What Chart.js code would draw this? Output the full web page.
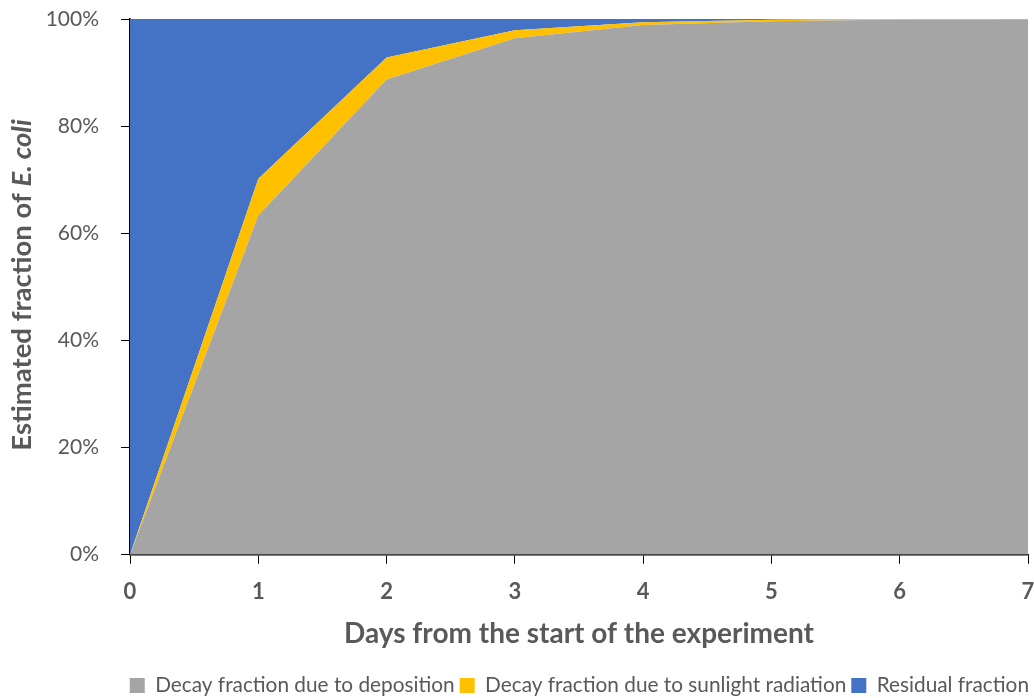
<!DOCTYPE html>
<html>
<head>
<meta charset="utf-8">
<script src="https://cdn.jsdelivr.net/npm/chart.js@4/dist/chart.umd.min.js"></script>
<style>
  html, body { margin: 0; padding: 0; background: #fff; overflow: hidden; }
  #wrap { width: 1034px; height: 706px; position: relative; }
</style>
</head>
<body>
<div id="wrap"><canvas id="areaChart"></canvas></div>
<script>
// Days and stacked fractions (%)
const days = ['0', '1', '2', '3', '4', '5', '6', '7'];
const depositionFraction = [0, 63.3, 88.7, 96.4, 98.9, 99.6, 99.9, 99.95];
const sunlightFraction = [0, 6.9, 4.1, 1.5, 0.5, 0.25, 0.08, 0.05];
const residualFraction = [100, 29.8, 7.2, 2.1, 0.6, 0.15, 0.02, 0];
const seriesNames = ['Decay fraction due to deposition', 'Decay fraction due to sunlight radiation', 'Residual fraction'];
const seriesColors = ['#A5A5A5', '#FFC000', '#4472C4'];

const FONT = 'Lato, "Open Sans", sans-serif';
const TEXT = '#595959';

// y axis title with italic species name
const yTitlePlugin = {
    id: 'yTitle',
    afterDraw(chart) {
        const ctx = chart.ctx;
        const parts = [
            { t: 'Estimated fraction of ', f: 'bold 27.5px ' + FONT },
            { t: 'E. coli', f: 'italic bold 27.5px ' + FONT }
        ];
        ctx.save();
        let total = 0;
        parts.forEach(p => { ctx.font = p.f; p.w = ctx.measureText(p.t).width; total += p.w; });
        ctx.translate(22, 285);
        ctx.rotate(-Math.PI / 2);
        ctx.fillStyle = TEXT;
        ctx.textBaseline = 'middle';
        let x = -total / 2;
        parts.forEach(p => { ctx.font = p.f; ctx.fillText(p.t, x, 0); x += p.w; });
        ctx.restore();
    }
};

const datasets = [depositionFraction, sunlightFraction, residualFraction].map((vals, i) => ({
    label: seriesNames[i],
    data: vals,
    backgroundColor: seriesColors[i],
    borderColor: seriesColors[i],
    borderWidth: 0,
    pointRadius: 0,
    tension: 0,
    fill: i === 0 ? 'origin' : '-1'
}));

new Chart(document.getElementById('areaChart'), {
    type: 'line',
    data: { labels: days, datasets: datasets },
    options: {
        responsive: true,
        maintainAspectRatio: false,
        animation: false,
        layout: { padding: { top: 19, right: 0, left: 0, bottom: 0 } },
        plugins: {
            legend: {
                position: 'bottom',
                align: 'end',
                labels: {
                    color: TEXT,
                    font: { family: FONT, size: 20.8, lineHeight: 1.0 },
                    boxWidth: 15,
                    boxHeight: 15,
                    padding: 5
                }
            },
            tooltip: { enabled: false }
        },
        scales: {
            x: {
                offset: false,
                grid: { display: true, drawOnChartArea: false, drawTicks: true, tickLength: 9, color: '#000' },
                border: { color: '#000', width: 1.5 },
                ticks: { color: TEXT, font: { family: FONT, size: 22, weight: 'bold' }, padding: 15, maxRotation: 0 },
                title: {
                    display: true,
                    text: 'Days from the start of the experiment',
                    color: TEXT,
                    font: { family: FONT, size: 28, weight: 'bold' },
                    padding: { top: 15, bottom: 19 }
                },
                afterFit(scale) { scale.height = 115.5; scale.paddingLeft = 0; scale.paddingRight = 6; }
            },
            y: {
                stacked: true,
                min: 0,
                max: 100,
                grid: { display: true, drawOnChartArea: false, drawTicks: true, tickLength: 9, color: '#000' },
                border: { color: '#000', width: 1.5 },
                ticks: {
                    stepSize: 20,
                    color: TEXT,
                    font: { family: FONT, size: 21 },
                    padding: 22,
                    callback: v => v + '%'
                },
                afterFit(scale) { scale.width = 130; scale.paddingTop = 0; scale.paddingBottom = 0; }
            }
        }
    },
    plugins: [yTitlePlugin]
});
</script>
</body>
</html>
